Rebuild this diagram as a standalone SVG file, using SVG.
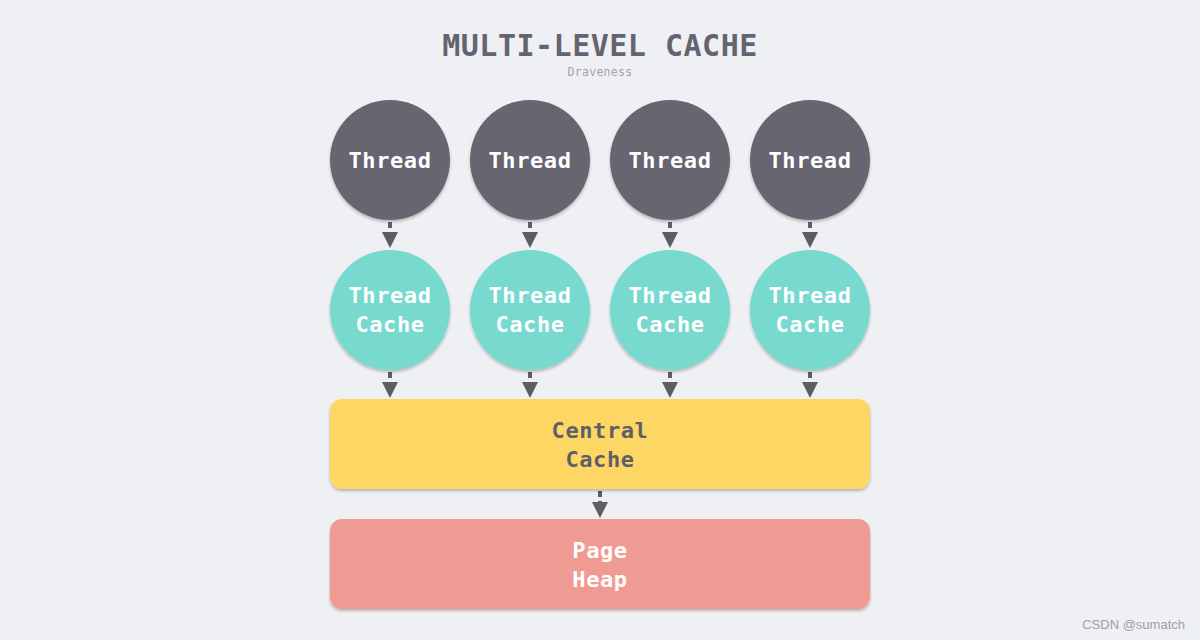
<svg xmlns="http://www.w3.org/2000/svg" width="1200" height="640" viewBox="0 0 1200 640">
<defs>
<style>
.t{font-family:"DejaVu Sans Mono","Liberation Mono",monospace;font-weight:bold;text-anchor:middle}
.lbl{font-size:22px;letter-spacing:0.6px}
.w{fill:#ffffff}
.d{fill:#5f5f6a}
.thread{fill:#66656f}
.tc{fill:#78d9cf}
.cc{fill:#fdd664}
.ph{fill:#f09a94}
.conn{stroke:#5d5d66;stroke-width:4;stroke-dasharray:6 4;fill:none}
</style>
<filter id="sh" x="-20%" y="-20%" width="140%" height="150%">
<feDropShadow dx="0" dy="2" stdDeviation="1.5" flood-color="#000" flood-opacity="0.25"/>
</filter>
<marker id="ah" markerWidth="4" markerHeight="4" refX="2" refY="2" orient="auto" markerUnits="strokeWidth" viewBox="0 0 4 4">
<path d="M0,0 L4,2 L0,4 z" fill="#5d5d66"/>
</marker>
</defs>
<rect width="1200" height="640" fill="#eff0f3"/>
<text class="t" x="600" y="56" style="font-size:30px;letter-spacing:0.5px" fill="#646470">MULTI-LEVEL CACHE</text>
<text class="t" x="600" y="76" style="font-size:11.5px;font-weight:normal;letter-spacing:0.3px" fill="#a3a3aa">Draveness</text>

<g id="connectors">
<path class="conn" d="M390,222 V240" marker-end="url(#ah)"/>
<path class="conn" d="M530,222 V240" marker-end="url(#ah)"/>
<path class="conn" d="M670,222 V240" marker-end="url(#ah)"/>
<path class="conn" d="M810,222 V240" marker-end="url(#ah)"/>
<path class="conn" d="M390,372 V390" marker-end="url(#ah)"/>
<path class="conn" d="M530,372 V390" marker-end="url(#ah)"/>
<path class="conn" d="M670,372 V390" marker-end="url(#ah)"/>
<path class="conn" d="M810,372 V390" marker-end="url(#ah)"/>
<path class="conn" d="M600,491 V510" marker-end="url(#ah)"/>
</g>

<g id="thread1"><circle class="thread" cx="390" cy="160" r="60" filter="url(#sh)"/><text class="t lbl w" x="390" y="168">Thread</text></g>
<g id="thread2"><circle class="thread" cx="530" cy="160" r="60" filter="url(#sh)"/><text class="t lbl w" x="530" y="168">Thread</text></g>
<g id="thread3"><circle class="thread" cx="670" cy="160" r="60" filter="url(#sh)"/><text class="t lbl w" x="670" y="168">Thread</text></g>
<g id="thread4"><circle class="thread" cx="810" cy="160" r="60" filter="url(#sh)"/><text class="t lbl w" x="810" y="168">Thread</text></g>

<g id="tcache1"><circle class="tc" cx="390" cy="310" r="60" filter="url(#sh)"/><text class="t lbl w" x="390" y="303">Thread</text><text class="t lbl w" x="390" y="332">Cache</text></g>
<g id="tcache2"><circle class="tc" cx="530" cy="310" r="60" filter="url(#sh)"/><text class="t lbl w" x="530" y="303">Thread</text><text class="t lbl w" x="530" y="332">Cache</text></g>
<g id="tcache3"><circle class="tc" cx="670" cy="310" r="60" filter="url(#sh)"/><text class="t lbl w" x="670" y="303">Thread</text><text class="t lbl w" x="670" y="332">Cache</text></g>
<g id="tcache4"><circle class="tc" cx="810" cy="310" r="60" filter="url(#sh)"/><text class="t lbl w" x="810" y="303">Thread</text><text class="t lbl w" x="810" y="332">Cache</text></g>

<g id="central"><rect class="cc" x="330" y="399" width="540" height="90" rx="12" filter="url(#sh)"/><text class="t lbl d" x="600" y="438">Central</text><text class="t lbl d" x="600" y="467">Cache</text></g>
<g id="pageheap"><rect class="ph" x="330" y="519" width="540" height="90" rx="12" filter="url(#sh)"/><text class="t lbl w" x="600" y="558">Page</text><text class="t lbl w" x="600" y="587">Heap</text></g>

<text x="1185" y="629" font-family="Liberation Sans,Arial,sans-serif" font-size="13" fill="#a0a0a0" text-anchor="end">CSDN @sumatch</text>
</svg>
